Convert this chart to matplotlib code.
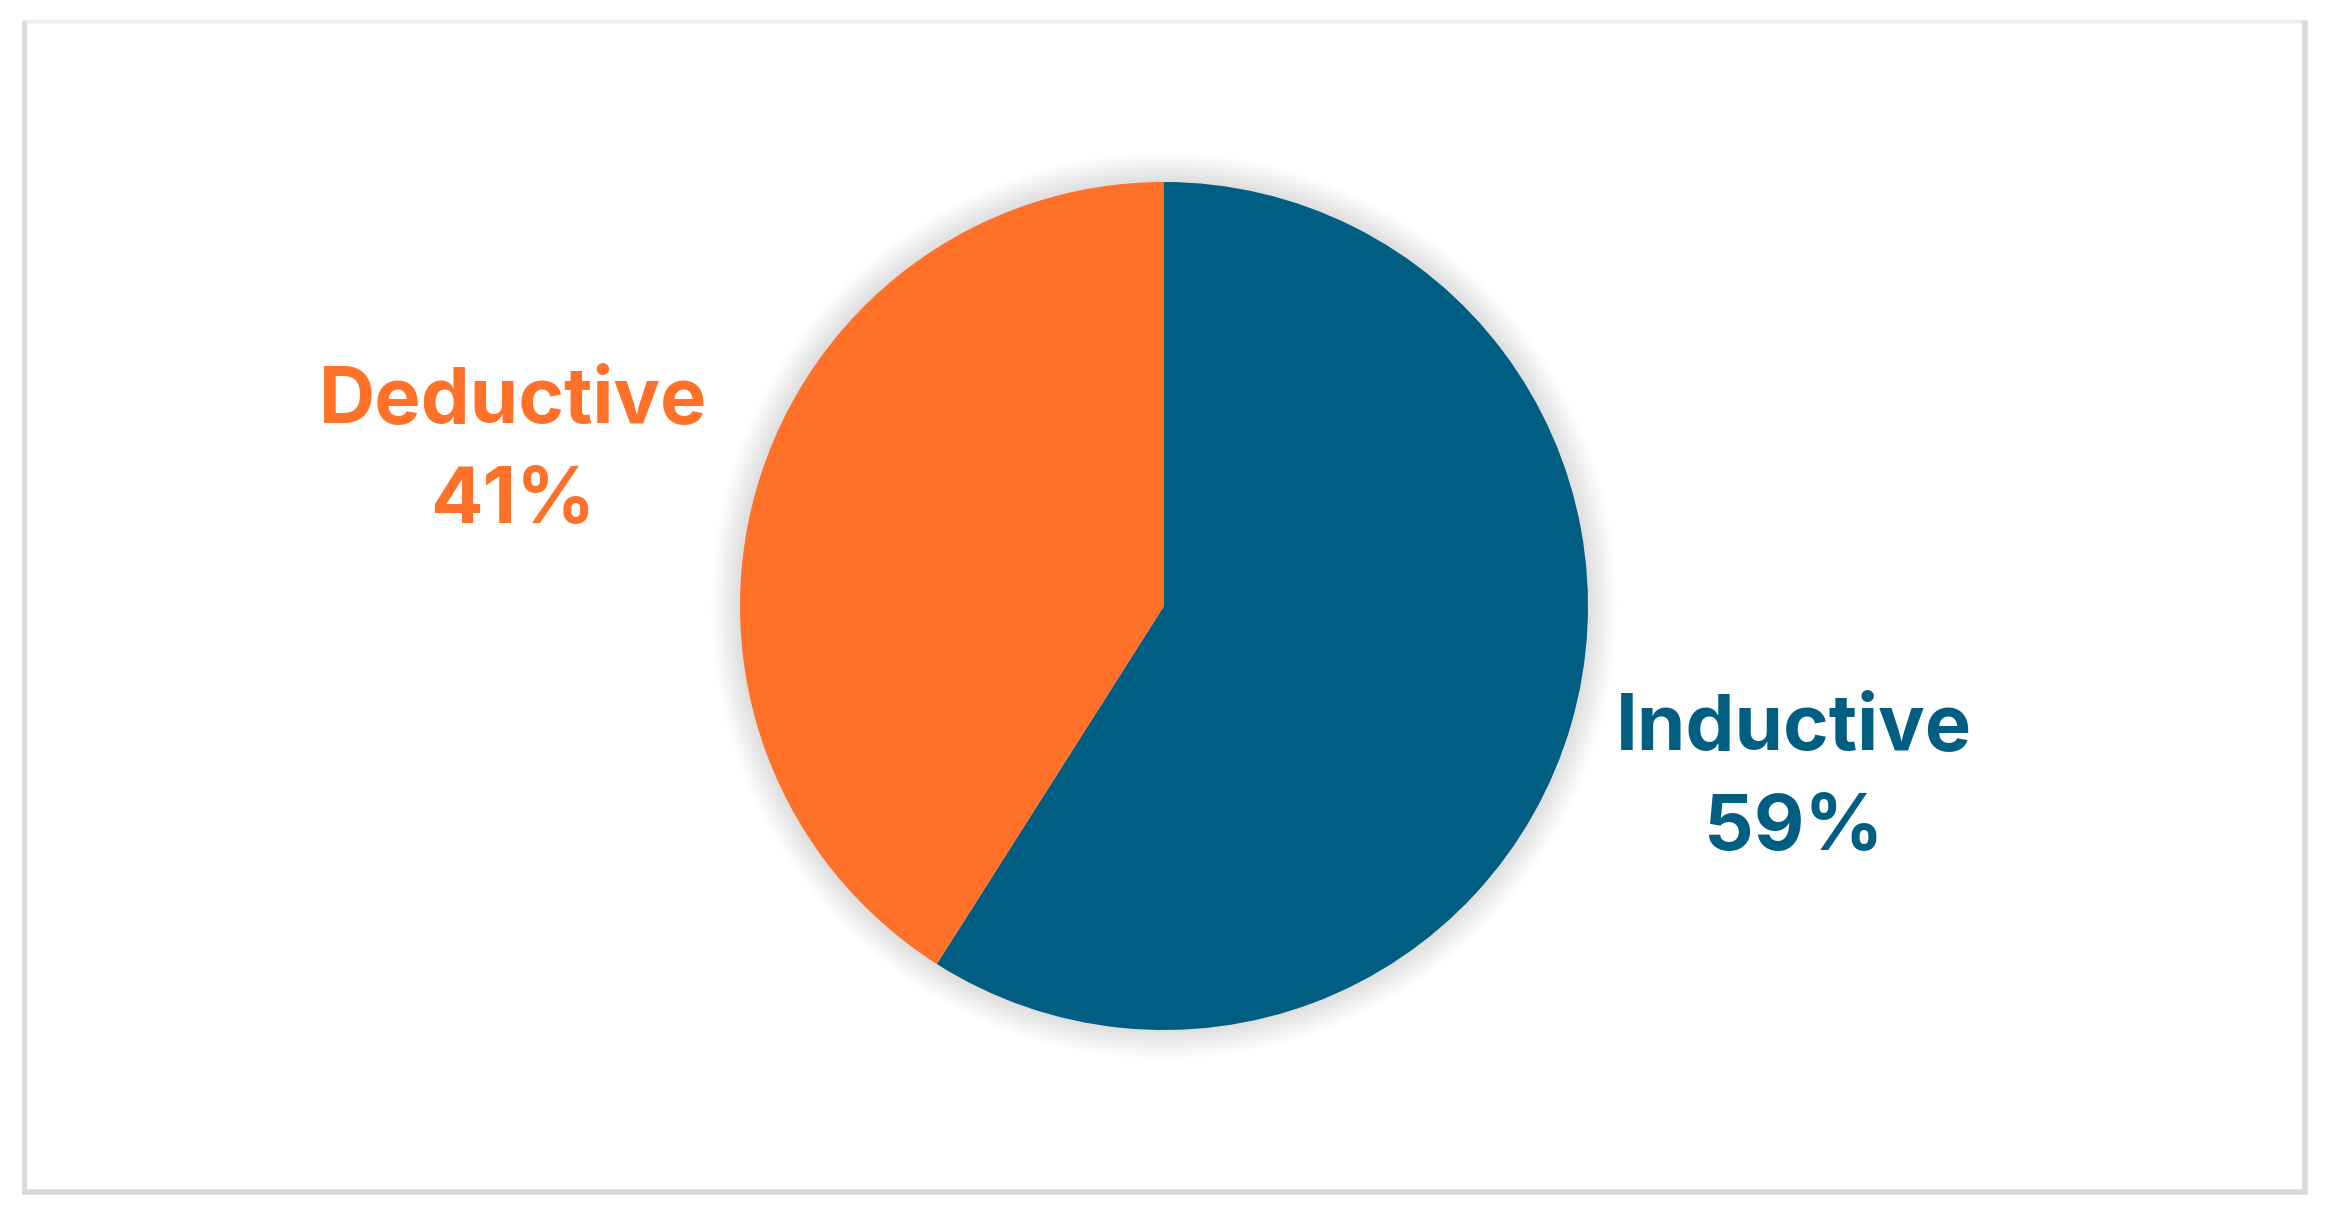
import matplotlib
matplotlib.use('Agg')
import matplotlib.pyplot as plt
from matplotlib.patches import Circle

# data
categories = ['Inductive', 'Deductive']
shares = [59, 41]
colors = ['#005E82', '#FF7029']
# label centres, pixels from top-left of the picture
label_pos = [(1794, 779), (513, 452)]

W, H = 2331, 1226
fig = plt.figure(figsize=(W / 100, H / 100), dpi=100)
ax = fig.add_axes([0, 0, 1, 1])

cx, cy, r = 1164, H - 606, 424

# soft glow behind the pie
for k in range(16, 0, -1):
    ax.add_patch(Circle((cx, cy), r + k * 1.8, color='#000000', alpha=0.009, lw=0, zorder=1))

labels = ['%s\n%d%%' % (c, s) for c, s in zip(categories, shares)]
wedges, texts = ax.pie(shares, colors=colors, startangle=90, counterclock=False,
                       center=(cx, cy), radius=r, labels=labels,
                       wedgeprops=dict(linewidth=0, zorder=2), frame=True)
ax.set_xlim(0, W)
ax.set_ylim(0, H)
ax.set_aspect('equal')
ax.axis('off')
for t, c, (px, py) in zip(texts, colors, label_pos):
    t.set_position((px, H - py))
    t.set_ha('center')
    t.set_va('center')
    t.set_multialignment('center')
    t.set_color(c)
    t.set_fontsize(56)
    t.set_fontweight('bold')
    t.set_family(['Inter', 'DejaVu Sans'])
    t.set_linespacing(1.5)

# outer frame
ax.plot([22, 2306], [H - 21, H - 21], color='#ececec', lw=2.5, solid_capstyle='butt')
ax.plot([24, 24], [H - 21, H - 1192], color='#d9d9d9', lw=3.5, solid_capstyle='butt')
ax.plot([2305, 2305], [H - 21, H - 1194], color='#d9d9d9', lw=4, solid_capstyle='butt')
ax.plot([22, 2307], [H - 1192, H - 1192], color='#d9d9d9', lw=4, solid_capstyle='butt')

fig.savefig('out.png', dpi=100, facecolor='white')
